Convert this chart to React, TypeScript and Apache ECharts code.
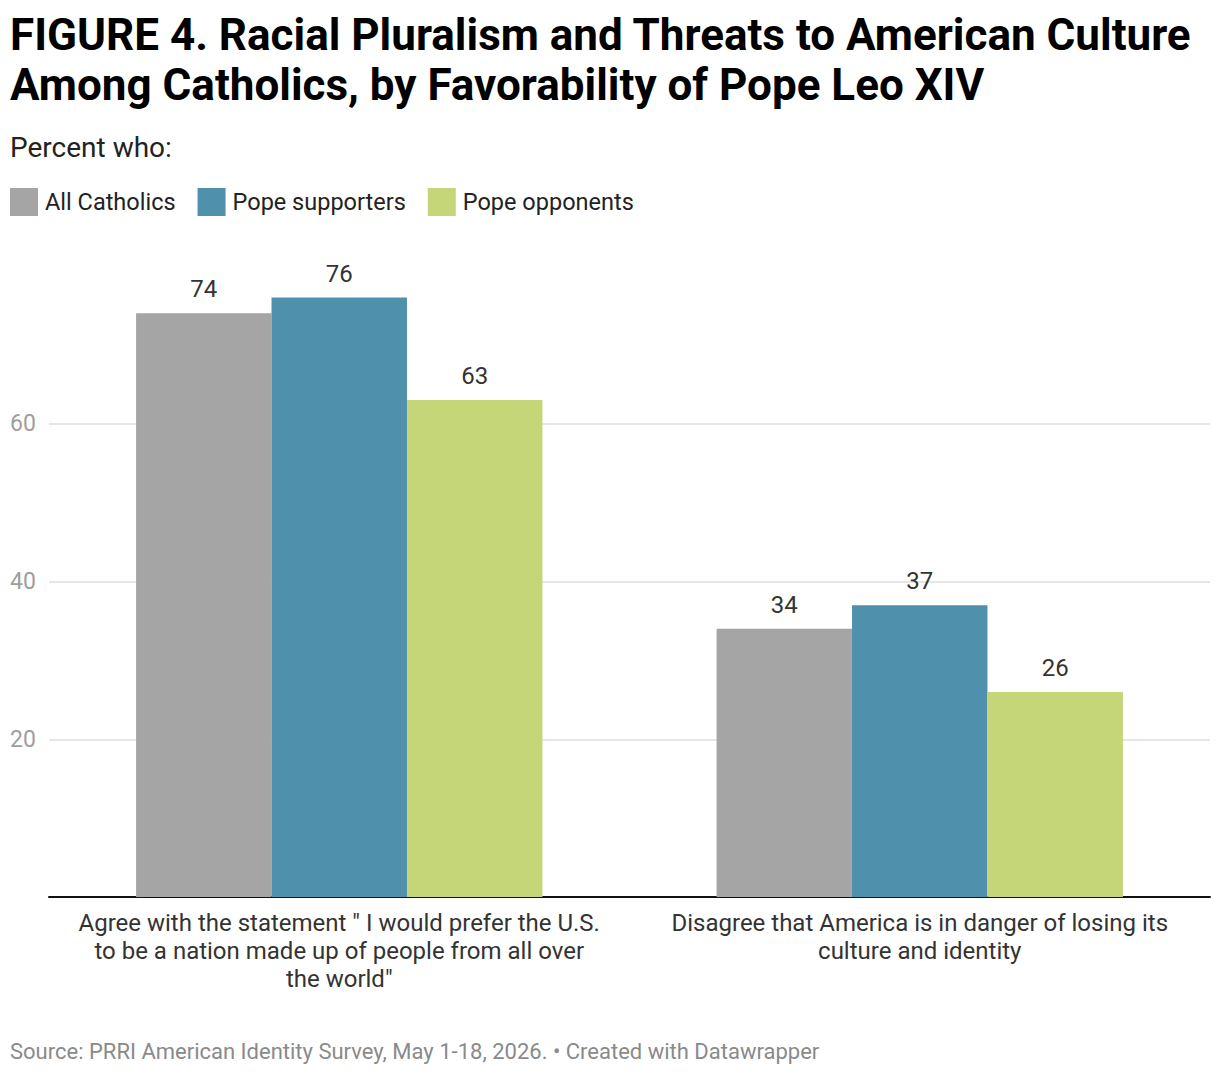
import React, { useEffect, useRef } from "react";
import * as echarts from "echarts";

const titleLines = [
  "FIGURE 4. Racial Pluralism and Threats to American Culture",
  "Among Catholics, by Favorability of Pope Leo XIV",
];
const subtitle = "Percent who:";
const sourceText =
  "Source: PRRI American Identity Survey, May 1-18, 2026. • Created with Datawrapper";

const categories = [
  'Agree with the statement " I would prefer the U.S.\nto be a nation made up of people from all over\nthe world"',
  "Disagree that America is in danger of losing its\nculture and identity",
];
const seriesNames = ["All Catholics", "Pope supporters", "Pope opponents"];
const allCatholics = [74, 34];
const popeSupporters = [76, 37];
const popeOpponents = [63, 26];
const seriesColors = ["#a5a5a5", "#4f90ad", "#c5d679"];
const yTicks = [20, 40, 60];

const FONT = "Roboto, 'Noto Sans', sans-serif";

export default function App() {
  const ref = useRef<HTMLDivElement>(null);
  useEffect(() => {
    if (!ref.current) return;
    const chart = echarts.init(ref.current, null, { renderer: "svg" });
    const values = [allCatholics, popeSupporters, popeOpponents];
    const option: any = {
      animation: false,
      backgroundColor: "#ffffff",
      textStyle: { fontFamily: FONT },
      graphic: [
        {
          type: "text",
          left: 10,
          top: 10,
          style: {
            text: titleLines.join("\n"),
            font: `bold 44px ${FONT}`,
            lineHeight: 50,
            fill: "#000000",
          },
        },
        {
          type: "text",
          left: 10,
          top: 133,
          style: {
            text: subtitle,
            font: `28px ${FONT}`,
            fill: "#222222",
          },
        },
        {
          type: "text",
          left: 10,
          top: 1040,
          style: {
            text: sourceText,
            font: `22px ${FONT}`,
            fill: "#8a8a8a",
          },
        },
      ],
      legend: {
        left: 10,
        top: 188,
        padding: 0,
        icon: "rect",
        itemWidth: 28,
        itemHeight: 28,
        itemGap: 22,
        selectedMode: false,
        textStyle: { fontSize: 23.5, color: "#222222", fontFamily: FONT, padding: [0, 0, 0, 2] },
        data: seriesNames,
      },
      grid: {
        left: 49,
        right: 10,
        top: 266,
        bottom: 177,
        containLabel: false,
        outerBoundsMode: "none",
      },
      xAxis: {
        type: "category",
        data: categories,
        axisTick: { show: false },
        axisLine: { show: true, lineStyle: { color: "#111111", width: 2 } },
        axisLabel: {
          interval: 0,
          fontSize: 24,
          lineHeight: 28,
          color: "#333333",
          fontFamily: FONT,
          margin: 12,
          align: "center",
        },
      },
      yAxis: {
        type: "value",
        min: 0,
        max: 80,
        interval: 20,
        axisLine: { show: false },
        axisTick: { show: false },
        splitLine: {
          show: true,
          showMinLine: false,
          showMaxLine: false,
          lineStyle: { color: "#e6e6e6", width: 2 },
        },
        axisLabel: {
          showMinLabel: false,
          showMaxLabel: false,
          fontSize: 23,
          color: "#9e9e9e",
          fontFamily: FONT,
          align: "left",
          margin: 39,
          formatter: (v: number) => (yTicks.includes(v) ? String(v) : ""),
        },
      },
      series: seriesNames.map((name, i) => ({
        name,
        type: "bar",
        data: values[i],
        barGap: "0%",
        barCategoryGap: "30%",
        itemStyle: { color: seriesColors[i] },
        label: {
          show: true,
          position: "top",
          distance: 12,
          fontSize: 24,
          color: "#333333",
          fontFamily: FONT,
        },
      })),
    };
    chart.setOption(option);
    return () => chart.dispose();
  }, []);
  return (
    <div
      ref={ref}
      style={{ position: "fixed", left: 0, top: 0, width: 1220, height: 1074, background: "#fff" }}
    />
  );
}
